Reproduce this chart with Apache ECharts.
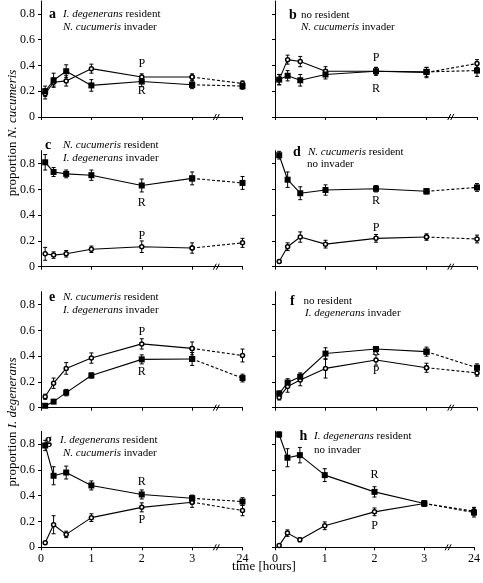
<!DOCTYPE html>
<html><head><meta charset="utf-8">
<script src="https://cdn.jsdelivr.net/npm/echarts@6/dist/echarts.min.js"></script>
<style>html,body{margin:0;padding:0;background:#fff}#c{width:483px;height:583px}</style>
</head><body><div id="c"></div>
<script>
// Sampling times (hours); the 24 h sample is plotted at the broken-axis slot 4
const timeHours = [0.083, 0.25, 0.5, 1, 2, 3, 24];
const timeSlots = [0.083, 0.25, 0.5, 1, 2, 3, 4];
const xTickSlots = [0, 1, 2, 3, 4];
const xTickLabels = ['0', '1', '2', '3', '24'];
const yTickValues = [0, 0.2, 0.4, 0.6, 0.8];

// panel a
const aP = [0.18, 0.27, 0.28, 0.375, 0.31, 0.31, 0.26];
const aPerr = [0.04, 0.03, 0.04, 0.035, 0.025, 0.025, 0.02];
const aR = [0.2, 0.285, 0.355, 0.245, 0.275, 0.25, 0.24];
const aRerr = [0.04, 0.055, 0.05, 0.045, 0.04, 0.03, 0.025];
// panel b
const bP = [0.29, 0.445, 0.43, 0.355, 0.355, 0.345, 0.415];
const bPerr = [0.04, 0.035, 0.04, 0.035, 0.03, 0.04, 0.03];
const bR = [0.29, 0.32, 0.285, 0.33, 0.355, 0.35, 0.36];
const bRerr = [0.04, 0.04, 0.045, 0.035, 0.03, 0.035, 0.045];
// panel c
const cR = [0.81, 0.735, 0.72, 0.71, 0.63, 0.685, 0.65];
const cRerr = [0.06, 0.035, 0.03, 0.04, 0.05, 0.05, 0.05];
const cP = [0.1, 0.09, 0.1, 0.135, 0.155, 0.145, 0.185];
const cPerr = [0.05, 0.025, 0.025, 0.025, 0.045, 0.04, 0.035];
// panel d
const dR = [0.865, 0.675, 0.57, 0.595, 0.605, 0.585, 0.615];
const dRerr = [0.03, 0.06, 0.05, 0.04, 0.025, 0.02, 0.03];
const dP = [0.04, 0.155, 0.23, 0.175, 0.22, 0.23, 0.215];
const dPerr = [0.01, 0.03, 0.04, 0.03, 0.03, 0.025, 0.03];
// panel e
const eP = [0.085, 0.19, 0.305, 0.385, 0.495, 0.46, 0.405];
const ePerr = [0.02, 0.04, 0.045, 0.04, 0.04, 0.05, 0.05];
const eR = [0.015, 0.047, 0.117, 0.25, 0.375, 0.378, 0.23];
const eRerr = [0.006, 0.01, 0.025, 0.02, 0.035, 0.05, 0.03];
// panel f
const fR = [0.11, 0.195, 0.24, 0.42, 0.455, 0.435, 0.31];
const fRerr = [0.02, 0.03, 0.03, 0.045, 0.02, 0.035, 0.03];
const fP = [0.08, 0.165, 0.215, 0.305, 0.37, 0.31, 0.27];
const fPerr = [0.02, 0.045, 0.045, 0.075, 0.04, 0.035, 0.025];
// panel g
const gR = [0.79, 0.555, 0.58, 0.48, 0.41, 0.38, 0.355];
const gRerr = [0.04, 0.07, 0.05, 0.035, 0.035, 0.025, 0.03];
const gP = [0.035, 0.175, 0.1, 0.23, 0.31, 0.35, 0.285];
const gPerr = [0.01, 0.07, 0.025, 0.03, 0.035, 0.04, 0.04];
// panel h
const hR = [0.875, 0.695, 0.715, 0.56, 0.43, 0.34, 0.27];
const hRerr = [0.02, 0.07, 0.06, 0.05, 0.04, 0.02, 0.035];
const hP = [0.013, 0.11, 0.058, 0.167, 0.275, 0.34, 0.28];
const hPerr = [0.008, 0.025, 0.015, 0.03, 0.03, 0.02, 0.03];

const FONT = '"Liberation Serif", "DejaVu Serif", serif';

const panels = [
  {id:'a', P:aP, Pe:aPerr, R:aR, Re:aRerr, pOff:-13, rOff:9,
   l1:[['i','I. degenerans'],['n',' resident']], l2:[['i','N. cucumeris'],['n',' invader']]},
  {id:'b', P:bP, Pe:bPerr, R:bR, Re:bRerr, pOff:-13, rOff:18,
   l1:[['n','no resident']], l2:[['i','N. cucumeris'],['n',' invader']]},
  {id:'c', P:cP, Pe:cPerr, R:cR, Re:cRerr, pOff:-11, rOff:17,
   l1:[['i','N. cucumeris'],['n',' resident']], l2:[['i','I. degenerans'],['n',' invader']]},
  {id:'d', P:dP, Pe:dPerr, R:dR, Re:dRerr, pOff:-11, rOff:12,
   l1:[['i','N. cucumeris'],['n',' resident']], l2:[['n','no invader']]},
  {id:'e', P:eP, Pe:ePerr, R:eR, Re:eRerr, pOff:-12, rOff:12,
   l1:[['i','N. cucumeris'],['n',' resident']], l2:[['i','I. degenerans'],['n',' invader']]},
  {id:'f', P:fP, Pe:fPerr, R:fR, Re:fRerr, pOff:11, rOff:3,
   l1:[['n','no resident']], l2:[['i','I. degenerans'],['n',' invader']]},
  {id:'g', P:gP, Pe:gPerr, R:gR, Re:gRerr, pOff:12, rOff:-13,
   l1:[['i','I. degenerans'],['n',' resident']], l2:[['i','N. cucumeris'],['n',' invader']]},
  {id:'h', P:hP, Pe:hPerr, R:hR, Re:hRerr, pOff:14, rOff:-17,
   l1:[['i','I. degenerans'],['n',' resident']], l2:[['n','no invader']]}
];

// layout (pixels)
const rowBottoms = [117, 266.7, 407.7, 547.3];
const plotH = 116;
const colLeft = [41, 275];
const colW = [201.5, 202];
// title placement: [letterX, letterY, textX, line1Y, line2X, line2Y]
const titlePos = {
  a:[49, 14, 63, 14, 63, 27],
  b:[289, 15, 301, 15, 301, 27],
  c:[45, 145, 63, 145, 63, 158],
  d:[293, 152.5, 308, 152.5, 307, 164.5],
  e:[49, 297, 63, 297, 63, 310],
  f:[290, 301, 303.5, 301, 305, 313.5],
  g:[45, 440, 60, 440, 63, 453.5],
  h:[299.5, 436, 314, 436, 314, 450]
};

const grids = [], xAxes = [], yAxes = [], series = [], graphics = [];

function pts(vals, idxs) { return idxs.map(i => [timeSlots[i], vals[i]]); }

panels.forEach((p, k) => {
  const row = Math.floor(k / 2), col = k % 2;
  grids.push({left: colLeft[col], width: colW[col], top: rowBottoms[row] - plotH, height: plotH});
  const bottomRow = row === 3;
  xAxes.push({
    type:'value', gridIndex:k, min:0, max:4,
    axisLine:{show:true, onZero:false, lineStyle:{color:'#000', width:1}},
    axisTick:{show:true, length:3, customValues: xTickSlots, lineStyle:{color:'#000'}},
    axisLabel:{show: bottomRow, customValues: xTickSlots, margin:6, color:'#000', fontFamily:FONT, fontSize:12,
      formatter: v => xTickLabels[xTickSlots.indexOf(Math.round(v))] ?? ''},
    splitLine:{show:false}
  });
  yAxes.push({
    type:'value', gridIndex:k, min:0, max:0.9,
    axisLine:{show:true, lineStyle:{color:'#000', width:1}},
    axisTick:{show:true, length:3, customValues: yTickValues, lineStyle:{color:'#000'}},
    axisLabel:{show: col === 0, customValues: yTickValues, margin:6, color:'#000', fontFamily:FONT, fontSize:12,
      formatter: v => v === 0 ? '0' : v.toFixed(1)},
    splitLine:{show:false}
  });

  const defs = [
    {name:'P', vals:p.P, err:p.Pe, off:p.pOff, symbol:'circle', size:4, style:{color:'#fff', borderColor:'#000', borderWidth:1.5}},
    {name:'R', vals:p.R, err:p.Re, off:p.rOff, symbol:'rect', size:6, style:{color:'#000', borderColor:'#000', borderWidth:0}}
  ];
  defs.forEach(d => {
    // error bars
    series.push({
      type:'custom', xAxisIndex:k, yAxisIndex:k, silent:true, z:2,
      data: d.vals.map((v, i) => [timeSlots[i], v, d.err[i]]),
      renderItem: (params, api) => {
        const x = api.value(0), y = api.value(1), e = api.value(2);
        const t = api.coord([x, y + e]), b = api.coord([x, y - e]);
        const ls = {stroke:'#000', lineWidth:1};
        return {type:'group', children:[
          {type:'line', shape:{x1:t[0], y1:t[1], x2:b[0], y2:b[1]}, style:ls},
          {type:'line', shape:{x1:t[0]-2, y1:t[1], x2:t[0]+2, y2:t[1]}, style:ls},
          {type:'line', shape:{x1:b[0]-2, y1:b[1], x2:b[0]+2, y2:b[1]}, style:ls}
        ]};
      }
    });
    // solid part (0 .. 3 h)
    const solid = pts(d.vals, [0,1,2,3,4,5]).map((v, i) => i === 4 ? {
      value: v,
      label:{show:true, position:'inside', offset:[0, d.off], formatter:d.name, color:'#000', fontFamily:FONT, fontSize:12}
    } : v);
    series.push({
      type:'line', xAxisIndex:k, yAxisIndex:k, data: solid, z:3,
      symbol:d.symbol, symbolSize:d.size, itemStyle:d.style, showSymbol:true,
      lineStyle:{color:'#000', width:1.1}, animation:false
    });
    // dashed part (3 h .. 24 h)
    series.push({
      type:'line', xAxisIndex:k, yAxisIndex:k, data: pts(d.vals, [5,6]), z:3,
      symbol:d.symbol, symbolSize:d.size, itemStyle:d.style,
      lineStyle:{color:'#000', width:1.1, type:[3,2]}, animation:false
    });
  });
  // axis break mark
  series.push({
    type:'custom', xAxisIndex:k, yAxisIndex:k, silent:true, z:5,
    data:[[3.5, 0]],
    renderItem: (params, api) => {
      const c = api.coord([api.value(0), api.value(1)]);
      const ls = {stroke:'#000', lineWidth:1};
      return {type:'group', children:[
        {type:'line', shape:{x1:c[0]-4, y1:c[1]+3, x2:c[0]-1, y2:c[1]-3}, style:ls},
        {type:'line', shape:{x1:c[0]-1, y1:c[1]+3, x2:c[0]+2, y2:c[1]-3}, style:ls}
      ]};
    }
  });

  // panel titles
  const tp = titlePos[p.id];
  const rich = {
    i:{fontFamily:FONT, fontStyle:'italic', fontSize:11, fill:'#000'},
    n:{fontFamily:FONT, fontSize:11, fill:'#000'}
  };
  const toRich = segs => segs.map(s => '{' + s[0] + '|' + s[1] + '}').join('');
  graphics.push({type:'text', x:tp[0], y:tp[1], style:{text:p.id, font:'bold 14px ' + FONT, fill:'#000', verticalAlign:'middle'}});
  graphics.push({type:'text', x:tp[2], y:tp[3], style:{text:toRich(p.l1), rich, fill:'#000', verticalAlign:'middle'}});
  graphics.push({type:'text', x:tp[4], y:tp[5], style:{text:toRich(p.l2), rich, fill:'#000', verticalAlign:'middle'}});
});

const yRich = {
  n:{fontFamily:FONT, fontSize:13, fill:'#000'},
  i:{fontFamily:FONT, fontSize:13, fontStyle:'italic', fill:'#000'}
};
graphics.push({type:'text', x:13, y:133, rotation:Math.PI/2,
  style:{text:'{n|proportion }{i|N. cucumeris}', rich:yRich, align:'center', verticalAlign:'middle'}});
graphics.push({type:'text', x:13, y:422, rotation:Math.PI/2,
  style:{text:'{n|proportion }{i|I. degenerans}', rich:yRich, align:'center', verticalAlign:'middle'}});
graphics.push({type:'text', x:264, y:567,
  style:{text:'time [hours]', font:'13px ' + FONT, fill:'#000', align:'center', verticalAlign:'middle'}});

const chart = echarts.init(document.getElementById('c'), null, {renderer:'canvas'});
chart.setOption({
  animation:false,
  backgroundColor:'#fff',
  grid: grids, xAxis: xAxes, yAxis: yAxes, series: series, graphic: graphics
});
</script></body></html>
